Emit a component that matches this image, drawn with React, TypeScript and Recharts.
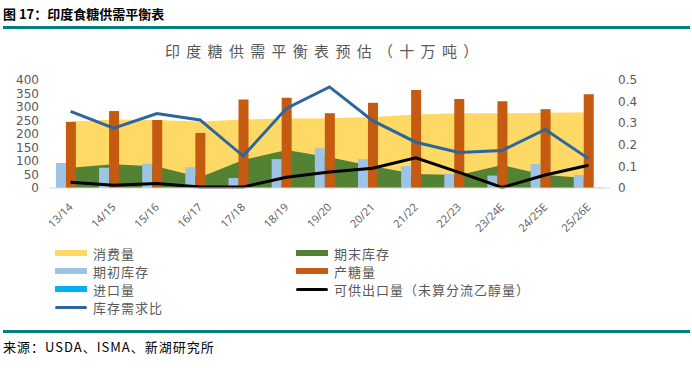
import React from 'react';
import { ComposedChart, Bar, Area, Line, XAxis, YAxis } from 'recharts';

const categories = ['13/14', '14/15', '15/16', '16/17', '17/18', '18/19', '19/20', '20/21', '21/22', '22/23', '23/24E', '24/25E', '25/26E'];
const consumption = [246, 254, 252, 246, 254, 257, 258, 263, 272, 277, 277, 279, 281];
const closingStock = [75, 88, 80, 40, 104, 141, 114, 81, 52, 48, 85, 48, 36];
const openingStock = [93, 75, 90, 77, 37, 107, 147, 107, 81, 52, 46, 89, 48];
const production = [245, 285, 252, 204, 328, 334, 277, 316, 363, 330, 321, 292, 347];
const imports = [2, 1, 1, 2, 1, 1, 1, 1, 1, 1, 1, 1, 1];
const exportable = [21, 10, 17, 4, 4, 40, 59, 73, 112, 58, 2, 48, 84];
const stockRatio = [0.355, 0.277, 0.345, 0.315, 0.148, 0.368, 0.468, 0.312, 0.212, 0.164, 0.174, 0.271, 0.136];
const leftTicks = [0, 50, 100, 150, 200, 250, 300, 350, 400];
const rightTicks = [0, 0.1, 0.2, 0.3, 0.4, 0.5];

const data = categories.map((c, i) => ({
  cat: c,
  consumption: consumption[i],
  closing: closingStock[i],
  opening: openingStock[i],
  production: production[i],
  imports: imports[i],
  exportable: exportable[i],
  ratio: stockRatio[i],
}));

const GRAY = '#595959';
const C_YELLOW = '#FFD966';
const C_GREEN = '#548235';
const C_LBLUE = '#9DC3E6';
const C_ORANGE = '#C55A11';
const C_CYAN = '#00B0F0';
const C_BLUE = '#2C669D';
const TEAL = '#008080';
const CJK = '"Noto Sans CJK SC", "Noto Sans", sans-serif';

const XTick = (props: any) => {
  const { x, y, payload } = props;
  return (
    <g transform={`translate(${x},${y + 9})`}>
      <text transform="rotate(-45)" textAnchor="end" dy={4} fill={GRAY} fontSize={11} fontFamily='"Open Sans", sans-serif'>
        {payload.value}
      </text>
    </g>
  );
};

const legendLeft = [
  { label: '消费量', type: 'rect', color: C_YELLOW },
  { label: '期初库存', type: 'rect', color: C_LBLUE },
  { label: '进口量', type: 'rect', color: C_CYAN },
  { label: '库存需求比', type: 'line', color: C_BLUE },
];
const legendRight = [
  { label: '期末库存', type: 'rect', color: C_GREEN },
  { label: '产糖量', type: 'rect', color: C_ORANGE },
  { label: '可供出口量（未算分流乙醇量）', type: 'line', color: '#000000' },
];

const LegendItem = ({ item, x, y }: any) => (
  <div style={{ position: 'absolute', left: x, top: y, height: 18, display: 'flex', alignItems: 'center' }}>
    <div
      style={{
        width: 32,
        height: item.type === 'rect' ? 6 : 3,
        background: item.color,
        borderRadius: item.type === 'line' ? 2 : 0,
        marginRight: 6,
      }}
    />
    <span style={{ fontFamily: CJK, fontSize: 13, color: GRAY, letterSpacing: 1, whiteSpace: 'nowrap' }}>{item.label}</span>
  </div>
);

export default function App() {
  return (
    <div style={{ position: 'absolute', left: 0, top: 0, width: 692, height: 368, background: '#fff', overflow: 'hidden' }}>
      <div style={{ position: 'absolute', left: 3, top: 4, fontFamily: CJK, fontWeight: 700, fontSize: 13, color: '#000', whiteSpace: 'nowrap' }}>
        图 17：印度食糖供需平衡表
      </div>
      <div style={{ position: 'absolute', left: 3, top: 26, width: 687, height: 3, background: TEAL }} />
      <div style={{ position: 'absolute', left: 165, top: 40, fontFamily: CJK, fontSize: 15, color: GRAY, letterSpacing: 6.3, whiteSpace: 'nowrap' }}>
        印度糖供需平衡表预估（十万吨）
      </div>
      <div style={{ position: 'absolute', left: 0, top: 0 }}>
        <ComposedChart width={692} height={260} data={data} margin={{ top: 80, right: 0, bottom: 32, left: 0 }} barGap={0} barCategoryGap="16%">
          <XAxis
            dataKey="cat"
            height={40}
            interval={0}
            tickLine={false}
            axisLine={{ stroke: '#D9D9D9' }}
            tick={<XTick />}
          />
          <YAxis
            yAxisId="left"
            width={49}
            domain={[0, 400]}
            ticks={leftTicks}
            axisLine={false}
            tickLine={false}
            tickSize={0}
            tickMargin={10}
            interval={0}
            tick={{ fill: GRAY, fontSize: 12, fontFamily: '"DejaVu Sans", sans-serif' }}
          />
          <YAxis
            yAxisId="right"
            orientation="right"
            width={82}
            domain={[0, 0.5]}
            ticks={rightTicks}
            axisLine={false}
            tickLine={false}
            tickSize={0}
            tickMargin={8}
            interval={0}
            tick={{ fill: GRAY, fontSize: 12, fontFamily: '"DejaVu Sans", sans-serif' }}
          />
          <Area yAxisId="left" type="linear" dataKey="consumption" fill={C_YELLOW} fillOpacity={1} stroke="none" isAnimationActive={false} />
          <Area yAxisId="left" type="linear" dataKey="closing" fill={C_GREEN} fillOpacity={1} stroke="none" isAnimationActive={false} />
          <Bar yAxisId="left" dataKey="opening" fill={C_LBLUE} isAnimationActive={false} />
          <Bar yAxisId="left" dataKey="production" fill={C_ORANGE} isAnimationActive={false} />
          <Bar yAxisId="left" dataKey="imports" fill={C_CYAN} isAnimationActive={false} />
          <Line yAxisId="left" type="linear" dataKey="exportable" stroke="#000" strokeWidth={3} dot={false} isAnimationActive={false} />
          <Line yAxisId="right" type="linear" dataKey="ratio" stroke={C_BLUE} strokeWidth={3} dot={false} isAnimationActive={false} />
        </ComposedChart>
      </div>
      {legendLeft.map((it, i) => (
        <LegendItem key={it.label} item={it} x={55} y={244 + i * 18} />
      ))}
      {legendRight.map((it, i) => (
        <LegendItem key={it.label} item={it} x={296} y={244 + i * 18} />
      ))}
      <div style={{ position: 'absolute', left: 3, top: 330, width: 687, height: 3, background: TEAL }} />
      <div style={{ position: 'absolute', left: 3, top: 337, fontFamily: CJK, fontSize: 13, color: '#000', whiteSpace: 'nowrap', letterSpacing: 1 }}>
        来源：USDA、ISMA、新湖研究所
      </div>
    </div>
  );
}
